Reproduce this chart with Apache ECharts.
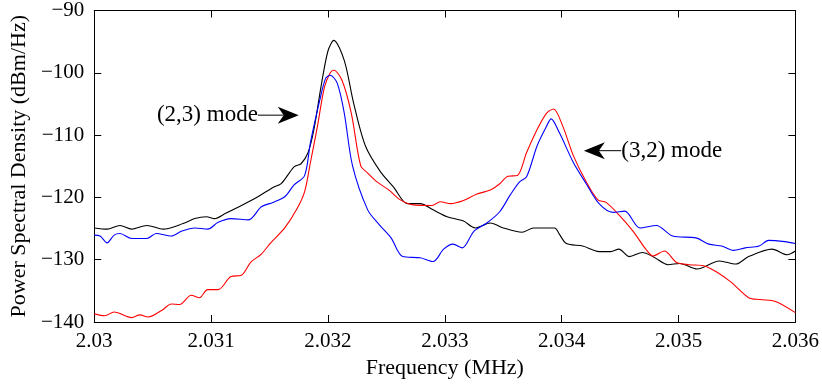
<!DOCTYPE html>
<html>
<head>
<meta charset="utf-8">
<script src="https://cdn.jsdelivr.net/npm/echarts@6/dist/echarts.min.js"></script>
<style>html,body{margin:0;padding:0;background:#fff}#c{width:822px;height:385px}</style>
</head>
<body>
<div id="c"></div>
<script>
const xTicks = [2.030, 2.031, 2.032, 2.033, 2.034, 2.035, 2.036];
const yTicks = [-140, -130, -120, -110, -100, -90];

const freqBlack = [2.03000,2.03011,2.03022,2.03032,2.03045,2.03059,2.03076,2.03086,2.03096,2.03103,2.03112,2.03126,2.03140,2.03153,2.03160,2.03171,2.03177,2.03183,2.03188,2.03194,2.03200,2.03205,2.03214,2.03222,2.03232,2.03245,2.03256,2.03268,2.03279,2.03290,2.03302,2.03316,2.03326,2.03339,2.03350,2.03366,2.03376,2.03394,2.03398,2.03404,2.03418,2.03432,2.03442,2.03449,2.03458,2.03469,2.03479,2.03491,2.03501,2.03516,2.03535,2.03549,2.03560,2.03580,2.03593,2.03600];
const dbBlack = [-124.9,-125.1,-124.5,-125.1,-124.5,-125.1,-124.2,-123.4,-123.1,-123.4,-122.6,-121.3,-119.9,-118.4,-117.8,-115.1,-114.6,-112.8,-109.1,-102.3,-96.5,-94.8,-98.05,-104.9,-111.7,-115.9,-118.3,-121.0,-121.0,-122.0,-123.1,-123.8,-124.9,-124.1,-124.9,-125.6,-124.9,-124.9,-125.9,-127.4,-127.8,-128.7,-128.7,-128.3,-129.5,-128.85,-129.6,-130.8,-130.6,-131.5,-130.2,-130.7,-129.5,-128.3,-129.2,-128.6];

const freqBlue = [2.03000,2.03005,2.03011,2.03017,2.03022,2.03032,2.03045,2.03053,2.03066,2.03075,2.03086,2.03097,2.03106,2.03117,2.03132,2.03143,2.03153,2.03163,2.03171,2.03180,2.03185,2.03193,2.03198,2.03202,2.03208,2.03214,2.03221,2.03234,2.03244,2.03254,2.03264,2.03279,2.03290,2.03299,2.03307,2.03315,2.03325,2.03336,2.03347,2.03356,2.03364,2.03370,2.03379,2.03387,2.03391,2.03398,2.03410,2.03421,2.03432,2.03444,2.03454,2.03467,2.03481,2.03495,2.03515,2.03526,2.03537,2.03547,2.03557,2.03569,2.03577,2.03591,2.03600];
const dbBlue = [-126.05,-126.2,-127.3,-126.05,-125.8,-126.6,-126.6,-125.8,-126.2,-125.4,-124.9,-125.1,-124.0,-123.4,-123.6,-121.5,-120.8,-119.9,-118.0,-116.5,-111.2,-104.4,-100.9,-100.4,-101.7,-106.5,-114.9,-122.0,-124.4,-126.5,-129.5,-129.7,-130.3,-128.3,-127.5,-128.1,-125.4,-124.1,-122.3,-119.6,-117.5,-116.7,-111.7,-108.6,-107.4,-109.6,-114.4,-117.8,-121.0,-122.4,-122.2,-124.9,-124.5,-126.2,-126.5,-127.5,-127.8,-128.5,-128.1,-127.8,-126.9,-127.1,-127.4];

const freqRed = [2.03000,2.03009,2.03017,2.03032,2.03039,2.03046,2.03058,2.03066,2.03073,2.03083,2.03090,2.03097,2.03106,2.03117,2.03126,2.03134,2.03143,2.03151,2.03163,2.03173,2.03180,2.03185,2.03191,2.03197,2.03202,2.03205,2.03212,2.03220,2.03228,2.03234,2.03242,2.03252,2.03262,2.03273,2.03289,2.03296,2.03305,2.03316,2.03327,2.03339,2.03347,2.03354,2.03362,2.03370,2.03379,2.03387,2.03393,2.03401,2.03410,2.03421,2.03431,2.03438,2.03449,2.03461,2.03472,2.03478,2.03488,2.03498,2.03509,2.03522,2.03533,2.03545,2.03560,2.03570,2.03583,2.03600];
const dbRed = [-138.7,-139.0,-138.4,-139.3,-138.85,-139.2,-138.1,-137.1,-137.2,-135.7,-136.1,-134.8,-134.8,-132.7,-132.5,-130.4,-129.1,-127.3,-124.9,-122.0,-119.1,-114.4,-108.6,-102.3,-100.0,-99.6,-101.2,-106.5,-114.9,-116.1,-117.5,-118.8,-120.4,-121.2,-121.3,-120.7,-121.0,-120.5,-119.5,-118.8,-117.8,-116.6,-116.5,-112.8,-109.1,-106.5,-105.8,-108.6,-113.3,-117.5,-120.4,-120.8,-122.8,-125.4,-128.3,-129.4,-128.6,-130.4,-130.8,-131.0,-132.0,-133.6,-136.1,-136.4,-136.7,-138.5];

// annotations: [label, tail freq, tip freq, dB]
const annot23 = ['(2,3) mode', 2.03140, 2.03175, -106.8];
const annot32 = ['(3,2) mode', 2.03451, 2.03419, -112.5];

const FONT = '"Liberation Serif", "DejaVu Serif", serif';
const zip = (a, b) => a.map((v, i) => [v, b[i]]);

const chart = echarts.init(document.getElementById('c'), null, {renderer: 'canvas'});

const fmtMinus = v => (v < 0 ? '\u2212' + Math.abs(v) : String(v));
const fmtX = v => String(+(+v).toFixed(3));

const option = {
  animation: false,
  backgroundColor: '#fff',
  grid: {left: 92, right: 25, top: 6, bottom: 63, containLabel: false},
  xAxis: [{
    type: 'value', min: xTicks[0], max: xTicks[xTicks.length - 1], interval: 0.001,
    position: 'bottom',
    name: 'Frequency (MHz)', nameLocation: 'middle', nameGap: 33,
    nameTextStyle: {fontFamily: FONT, fontSize: 22, color: '#000'},
    axisLine: {show: true, onZero: false, lineStyle: {color: '#000', width: 1}},
    axisTick: {show: true, inside: true, length: 7, lineStyle: {color: '#000'}},
    axisLabel: {fontFamily: FONT, fontSize: 21, color: '#000', margin: 9, formatter: fmtX, showMinLabel: true, showMaxLabel: true},
    splitLine: {show: false}
  }, {
    type: 'value', min: xTicks[0], max: xTicks[xTicks.length - 1], interval: 0.001,
    position: 'top',
    axisLine: {show: true, onZero: false, lineStyle: {color: '#000', width: 1}},
    axisTick: {show: true, inside: true, length: 7, lineStyle: {color: '#000'}},
    axisLabel: {show: false}, splitLine: {show: false}
  }],
  yAxis: [{
    type: 'value', min: yTicks[0], max: yTicks[yTicks.length - 1], interval: 10,
    position: 'left',
    name: 'Power Spectral Density (dBm/Hz)', nameLocation: 'middle', nameGap: 60,
    nameTextStyle: {fontFamily: FONT, fontSize: 22, color: '#000'},
    axisLine: {show: true, onZero: false, lineStyle: {color: '#000', width: 1}},
    axisTick: {show: true, inside: true, length: 7, lineStyle: {color: '#000'}},
    axisLabel: {fontFamily: FONT, fontSize: 21, color: '#000', margin: 10, formatter: fmtMinus},
    splitLine: {show: false}
  }, {
    type: 'value', min: yTicks[0], max: yTicks[yTicks.length - 1], interval: 10,
    position: 'right',
    axisLine: {show: true, onZero: false, lineStyle: {color: '#000', width: 1}},
    axisTick: {show: true, inside: true, length: 7, lineStyle: {color: '#000'}},
    axisLabel: {show: false}, splitLine: {show: false}
  }],
  series: [
    {type: 'line', name: 'black', data: zip(freqBlack, dbBlack), showSymbol: false, smooth: 0.3,
     lineStyle: {color: '#000000', width: 1.1}, itemStyle: {color: '#000'}, z: 3},
    {type: 'line', name: 'red', data: zip(freqRed, dbRed), showSymbol: false, smooth: 0.3,
     lineStyle: {color: '#ff0000', width: 1.1}, itemStyle: {color: '#f00'}, z: 4},
    {type: 'line', name: 'blue', data: zip(freqBlue, dbBlue), showSymbol: false, smooth: 0.3,
     lineStyle: {color: '#0000ff', width: 1.1}, itemStyle: {color: '#00f'}, z: 5}
  ]
};
chart.setOption(option);

function arrowGraphics(a) {
  const tail = chart.convertToPixel({xAxisIndex: 0, yAxisIndex: 0}, [a[1], a[3]]);
  const tip = chart.convertToPixel({xAxisIndex: 0, yAxisIndex: 0}, [a[2], a[3]]);
  const dir = tip[0] > tail[0] ? 1 : -1;
  const L = 21, H = 8.5, N = 15;
  const els = [];
  els.push({type: 'line', shape: {x1: tail[0], y1: tail[1], x2: tip[0] - dir * N, y2: tip[1]},
            style: {stroke: '#000', lineWidth: 1}, z: 100});
  els.push({type: 'polygon', shape: {points: [
    [tip[0], tip[1]], [tip[0] - dir * L, tip[1] - H], [tip[0] - dir * N, tip[1]], [tip[0] - dir * L, tip[1] + H]
  ]}, style: {fill: '#000'}, z: 100});
  els.push({type: 'text', x: tail[0], y: tail[1], z: 100, style: {
    text: a[0], font: '23px ' + FONT, fill: '#000',
    align: dir > 0 ? 'right' : 'left', verticalAlign: 'middle'
  }});
  return els;
}
chart.setOption({graphic: {elements: [].concat(arrowGraphics(annot23), arrowGraphics(annot32))}});
</script>
</body>
</html>
